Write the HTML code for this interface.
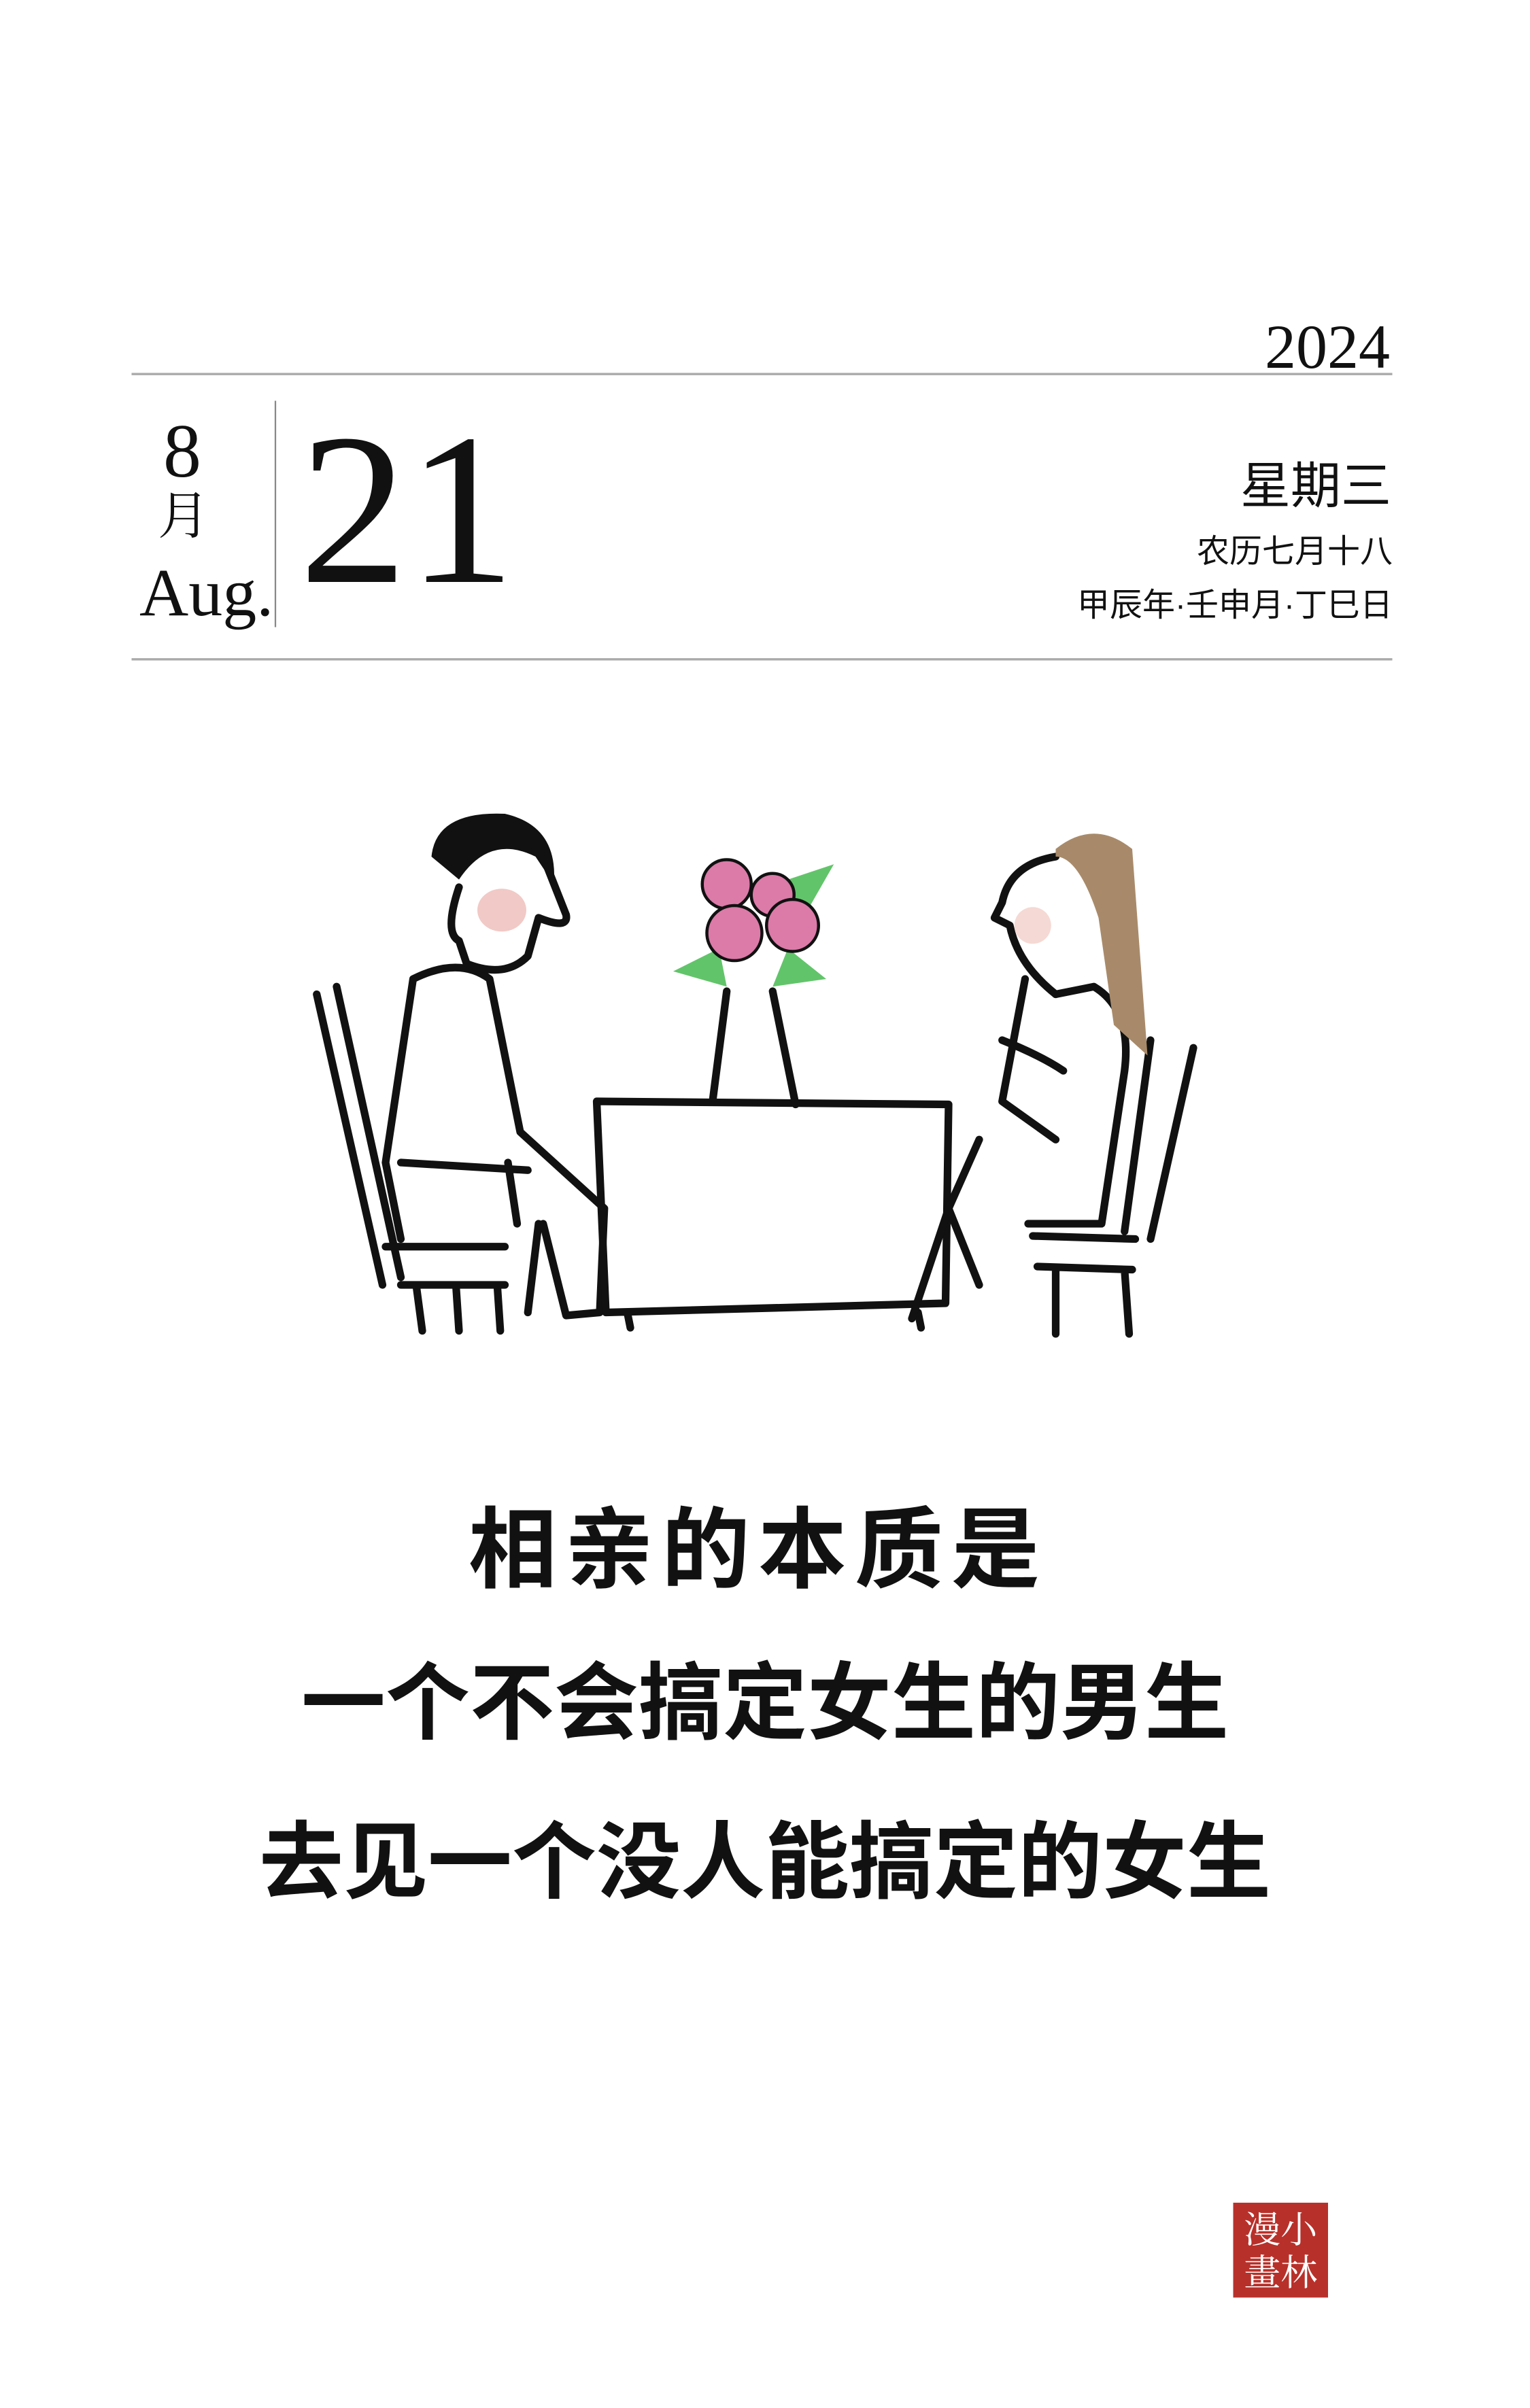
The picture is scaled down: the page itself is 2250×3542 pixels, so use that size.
<!DOCTYPE html>
<html><head><meta charset="utf-8"><style>
html,body{margin:0;padding:0;background:#fff;}
#page{position:relative;width:2250px;height:3542px;overflow:hidden;background:#fff;}
.t{position:absolute;white-space:nowrap;color:#111;}
.serif{font-family:"Liberation Serif","Noto Serif CJK SC",serif;}
.sans{font-family:"Liberation Sans","Noto Sans CJK SC",sans-serif;}
.hand{font-family:"Liberation Sans","WenQuanYi Zen Hei","Noto Sans CJK SC",sans-serif;font-weight:bold;}
</style></head><body>
<div id="page">
<svg style="position:absolute;left:0;top:0" width="2250" height="3542" viewBox="0 0 1000 1574.2">
 <line x1="86" y1="244.5" x2="910" y2="244.5" stroke="#aaa" stroke-width="1.5"/>
 <line x1="86" y1="431" x2="910" y2="431" stroke="#aaa" stroke-width="1.5"/>
 <line x1="180" y1="262" x2="180" y2="410" stroke="#888" stroke-width="1"/>
 <g fill="none" stroke="#111" stroke-width="5" stroke-linecap="round" stroke-linejoin="round">
  <path d="M207 650 L250 840 M220 645 L262 835 M252 815 L330 815 M262 840 L330 840 M272 840 L276 870 M298 840 L300 870 M325 840 L327 870"/>
  <path d="M270 640 L252 760 L262 810 M270 640 Q300 625 320 640 L340 740 L395 790 L392 858 L370 860 L355 800 M262 760 L345 765 M332 760 L338 800 M352 800 L345 858"/>
  <path d="M300 580 Q290 610 300 615 L305 630 Q330 640 345 625 L352 600 Q372 608 370 598 L355 560"/>
  <path d="M390 720 L620 722 L618 852 L396 858 Z M410 858 L412 868 M600 858 L602 868"/>
  <path d="M475 648 L466 718 M505 648 L520 722"/>
  <path d="M752 680 L735 805 M780 685 L752 810 M675 808 L742 810 M678 828 L740 830 M690 830 L690 872 M735 830 L738 872"/>
  <path d="M670 640 L655 720 L690 745 M690 650 L715 645 Q740 660 735 700 L720 800 L672 800 M640 745 L620 790 L640 840 M620 790 L596 862 M655 680 Q680 690 695 700"/>
  <path d="M690 560 Q660 565 655 590 L650 600 L660 605 Q665 630 690 650"/>
 </g>
 <path d="M282 560 Q285 530 330 532 Q365 540 362 578 L350 560 Q320 545 300 575 Z" fill="#111"/>
 <ellipse cx="328" cy="595" rx="16" ry="14" fill="#e8a5a0" opacity="0.6"/>
 <path d="M690 555 Q715 535 740 555 L750 690 L728 670 L718 600 Q705 560 690 560 Z" fill="#a88a6a"/>
 <ellipse cx="675" cy="605" rx="12" ry="12" fill="#eec0b8" opacity="0.6"/>
 <g>
  <path d="M440 635 L470 620 L475 645 Z M515 620 L540 640 L505 645 Z M515 575 L545 565 L525 600 Z" fill="#62c46a"/>
  <circle cx="475" cy="578" r="16" fill="#dc7aa8" stroke="#111" stroke-width="2"/>
  <circle cx="505" cy="585" r="14" fill="#dc7aa8" stroke="#111" stroke-width="2"/>
  <circle cx="480" cy="610" r="18" fill="#dc7aa8" stroke="#111" stroke-width="2"/>
  <circle cx="518" cy="605" r="17" fill="#dc7aa8" stroke="#111" stroke-width="2"/>
 </g>
 <g>
  <rect x="806" y="1440" width="62" height="62" fill="#b8302a"/>
  <text x="837" y="1466" font-size="24" fill="#fff" text-anchor="middle" font-family="Noto Serif CJK SC, serif">漫小</text>
  <text x="837" y="1494" font-size="24" fill="#fff" text-anchor="middle" font-family="Noto Serif CJK SC, serif">畫林</text>
 </g>
</svg>
<div class="t serif" style="right:206px;top:464px;font-size:92px;line-height:92px;">2024</div>
<div class="t serif" style="left:240px;top:608px;font-size:112px;line-height:112px;">8</div>
<div class="t serif" style="left:232px;top:722px;font-size:76px;line-height:76px;">月</div>
<div class="t serif" style="left:205px;top:822px;font-size:100px;line-height:100px;">Aug.</div>
<div class="t serif" style="left:440px;top:590px;font-size:318px;line-height:318px;">21</div>
<div class="t sans" style="right:204px;top:678px;font-size:74px;line-height:74px;">星期三</div>
<div class="t sans" style="right:202px;top:787px;font-size:48px;line-height:50px;">农历七月十八</div>
<div class="t sans" style="right:202px;top:866px;font-size:48px;line-height:50px;">甲辰年·壬申月·丁巳日</div>
<div class="t hand" style="left:0;width:2250px;text-align:center;top:2210px;font-size:130px;line-height:140px;letter-spacing:12px;text-indent:-20px;">相亲的本质是</div>
<div class="t hand" style="left:0;width:2250px;text-align:center;top:2436px;font-size:124px;line-height:140px;letter-spacing:0px;">一个不会搞定女生的男生</div>
<div class="t hand" style="left:0;width:2250px;text-align:center;top:2670px;font-size:124px;line-height:140px;letter-spacing:0px;">去见一个没人能搞定的女生</div>
</div>
</body></html>
